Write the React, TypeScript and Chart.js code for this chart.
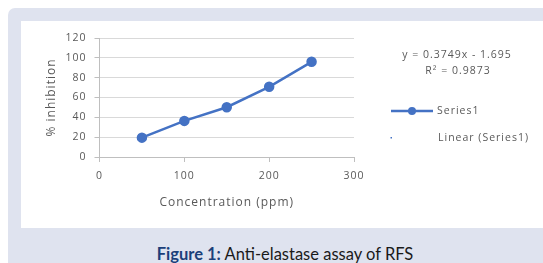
import React, { useEffect, useRef } from "react";
import { Chart, registerables } from "chart.js";

Chart.register(...registerables);

const concentrations = [50, 100, 150, 200, 250];
const inhibition = [19.5, 36.4, 50.2, 70.8, 96.0];
const seriesName = "Series1";
const trendName = "Linear (Series1)";
const equationText = "y = 0.3749x - 1.695";
const r2Text = "R² = 0.9873";
const xTitle = "Concentration (ppm)";
const yTitle = "% inhibition";
const captionBold = "Figure 1:";
const captionRest = " Anti-elastase assay of RFS";

const BLUE = "#4472C4";
const TEXT = "#595959";
const FONT = "'Open Sans', sans-serif";

const spacingPlugin = {
  id: "letterSpacing",
  beforeDraw(chart: any) {
    chart.ctx.letterSpacing = "1px";
  },
};

const legendPlugin = {
  id: "sideLegend",
  afterDraw(chart: any) {
    const ctx = chart.ctx;
    ctx.save();
    ctx.letterSpacing = "1px";
    ctx.fillStyle = TEXT;
    ctx.font = `10.5px ${FONT}`;
    ctx.textAlign = "center";
    ctx.textBaseline = "middle";
    ctx.fillText(equationText, 436, 34);
    ctx.fillText(r2Text, 437, 50);
    // Series1 legend
    ctx.strokeStyle = BLUE;
    ctx.lineWidth = 2.5;
    ctx.beginPath();
    ctx.moveTo(370, 90);
    ctx.lineTo(412, 90);
    ctx.stroke();
    ctx.fillStyle = BLUE;
    ctx.beginPath();
    ctx.arc(391, 90, 4, 0, Math.PI * 2);
    ctx.fill();
    ctx.fillStyle = TEXT;
    ctx.textAlign = "left";
    ctx.fillText(seriesName, 416, 90);
    // Linear legend
    ctx.fillStyle = BLUE;
    ctx.fillRect(369.5, 116, 1.5, 1.5);
    ctx.fillStyle = TEXT;
    ctx.fillText(trendName, 417, 117);
    ctx.restore();
  },
};

export default function App() {
  const ref = useRef<HTMLCanvasElement>(null);
  useEffect(() => {
    if (!ref.current) return;
    const chart = new Chart(ref.current, {
      type: "line",
      data: {
        datasets: [
          {
            label: seriesName,
            data: concentrations.map((x, i) => ({ x, y: inhibition[i] })),
            borderColor: BLUE,
            backgroundColor: BLUE,
            borderWidth: 2.5,
            pointRadius: 4,
            pointBackgroundColor: BLUE,
            pointBorderColor: BLUE,
            tension: 0,
          },
        ],
      },
      options: {
        animation: false,
        responsive: false,
        devicePixelRatio: 1,
        layout: { padding: { top: 17, right: 189, left: 0, bottom: 0 } },
        plugins: { legend: { display: false }, tooltip: { enabled: false } },
        scales: {
          x: {
            type: "linear",
            min: 0,
            max: 300,
            afterFit: (s: any) => {
              s.height = 71;
            },
            ticks: { stepSize: 100, color: TEXT, font: { family: FONT, size: 10.5 }, padding: 8 },
            grid: { color: "rgba(0,0,0,0)", tickColor: "#bfbfbf", tickLength: 5, drawOnChartArea: false },
            border: { color: "#bfbfbf", width: 1 },
            title: {
              display: true,
              text: xTitle,
              color: TEXT,
              font: { family: FONT, size: 12 },
              padding: { top: 0, bottom: 18 },
            },
          },
          y: {
            min: 0,
            max: 120,
            afterFit: (s: any) => {
              s.width = 78.5;
            },
            ticks: { stepSize: 20, color: TEXT, font: { family: FONT, size: 10.5 }, padding: 8 },
            grid: { color: "#d9d9d9", tickColor: "#bfbfbf", tickLength: 5 },
            border: { color: "#bfbfbf", width: 1 },
            title: {
              display: true,
              text: yTitle,
              color: TEXT,
              font: { family: FONT, size: 12 },
              padding: { top: 23, bottom: 0 },
            },
          },
        },
      },
      plugins: [spacingPlugin, legendPlugin],
    });
    return () => chart.destroy();
  }, []);

  return (
    <div style={{ position: "fixed", left: 0, top: 0, width: 543, height: 263, overflow: "hidden", background: "#ffffff" }}>
      <div style={{ position: "absolute", left: 8, top: 8, width: 580, height: 280, background: "#dfe3ef", borderRadius: 7 }} />
      <div style={{ position: "absolute", left: 21, top: 21, width: 560, height: 207, background: "#ffffff" }}>
        <canvas ref={ref} width={522} height={207} style={{ display: "block", width: 522, height: 207 }} />
      </div>
      <div
        style={{
          position: "absolute",
          left: 8,
          top: 245,
          width: 554,
          textAlign: "center",
          fontFamily: "Lato, sans-serif",
          fontSize: 16.5,
          lineHeight: "19px",
          color: "#1a1a1a",
          whiteSpace: "nowrap",
        }}
      >
        <span style={{ fontWeight: 700, color: "#1b3f7a" }}>{captionBold}</span>
        {captionRest}
      </div>
    </div>
  );
}
